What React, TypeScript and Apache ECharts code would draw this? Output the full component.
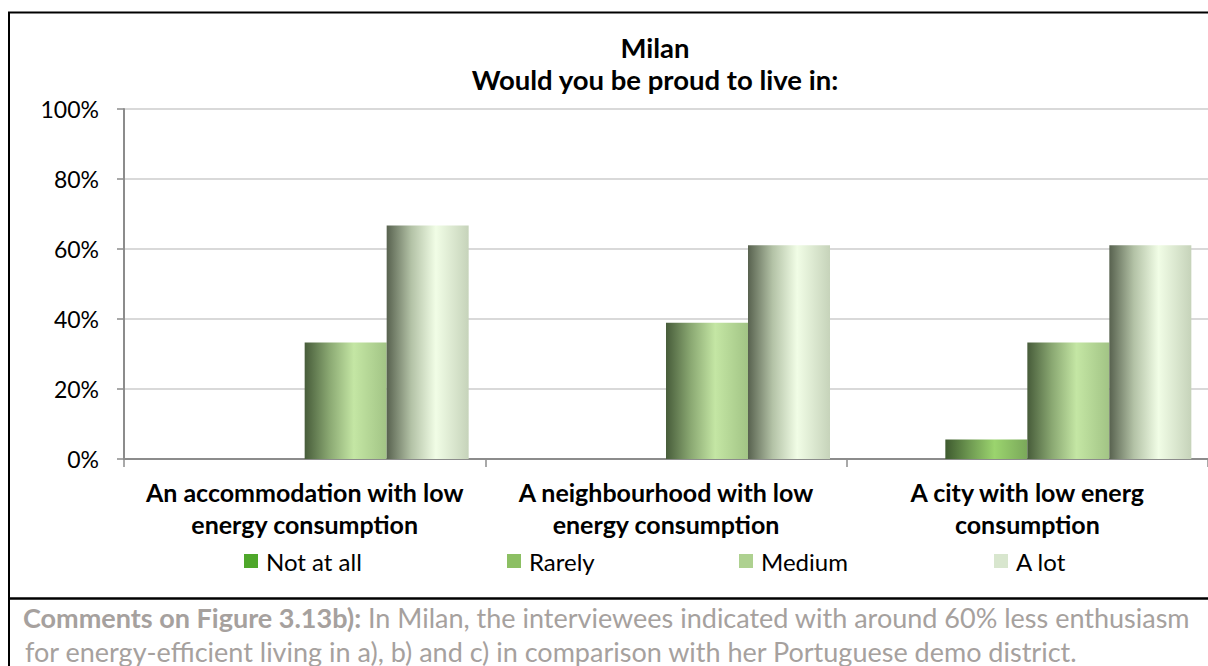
import React, { useEffect, useRef } from 'react';
import * as echarts from 'echarts';

// ---- data ----
const categories = [
  'An accommodation with low\nenergy consumption',
  'A neighbourhood with low\nenergy consumption',
  'A city with low energ\nconsumption',
];
const seriesNames = ['Not at all', 'Rarely', 'Medium', 'A lot'];
const notAtAll = [0, 0, 0];
const rarely = [0, 0, 5.6];
const medium = [33.3, 38.9, 33.3];
const aLot = [66.7, 61.1, 61.1];
const yMin = 0;
const yMax = 100;
const yStep = 20;
const titleLines = ['Milan', 'Would you be proud to live in:'];
const commentBold = 'Comments on Figure 3.13b):';
const commentLine1 = ' In Milan, the interviewees indicated with around 60% less enthusiasm';
const commentLine2 =
  'for energy-efficient living in a), b) and c) in comparison with her Portuguese demo district.';

// ---- styles ----
const FAMILY = 'Lato';
const FONT = 'Lato, "Open Sans", sans-serif';
const legendColors = ['#4ea72a', '#8cbf63', '#aed190', '#d8e6ce'];
const gradients = [
  [['#2f5a1a', 0], ['#4e9a2c', 0.3], ['#66c23a', 0.6], ['#4a9a2a', 1]],
  [['#3e5a2f', 0], ['#6f9a52', 0.3], ['#9bd46e', 0.6], ['#7aa85a', 1]],
  [['#475c3a', 0], ['#8aa872', 0.3], ['#c4e6a4', 0.6], ['#a2c485', 1]],
  [['#58624f', 0], ['#b3c2a6', 0.3], ['#f1fde6', 0.6], ['#c6d3ba', 1]],
];
const legendLefts = [239, 502, 734, 989];

function measure(text: string, weight: string) {
  const ctx = document.createElement('canvas').getContext('2d');
  if (!ctx) return 1000;
  ctx.font = `${weight} 100px ${FAMILY}`;
  return ctx.measureText(text).width;
}
function fit(text: string, weight: string, target: number) {
  return Math.round(((100 * target) / measure(text, weight)) * 2) / 2;
}

export default function App() {
  const ref = useRef<HTMLDivElement>(null);
  useEffect(() => {
    if (!ref.current) return;
    const chart = echarts.init(ref.current, null, { renderer: 'svg' });

    const titleSize = fit(titleLines[1], 'bold', 369);
    const catSize = fit('An accommodation with low', 'bold', 317);
    const ySize = fit('100%', 'normal', 58);
    const legSize = fit('Not at all', 'normal', 95);
    const line1W = measure(commentBold, 'bold') + measure(commentLine1, 'normal');
    const comSize = Math.floor(
      Math.min((100 * 1170) / line1W, fit(commentLine2, 'normal', 1069)) * 2
    ) / 2;

    const seriesData = [notAtAll, rarely, medium, aLot];
    const series = seriesNames.map((name, i) => ({
      name,
      type: 'bar',
      data: seriesData[i],
      barWidth: 82,
      barGap: '0%',
      itemStyle: {
        color: new echarts.graphic.LinearGradient(
          0, 0, 1, 0,
          gradients[i].map(([c, o]) => ({ offset: o as number, color: c as string }))
        ),
      },
    }));

    const legends = seriesNames.map((name, i) => ({
      data: [{ name, itemStyle: { color: legendColors[i] } }],
      left: legendLefts[i],
      top: 544,
      icon: 'rect',
      itemWidth: 14,
      itemHeight: 14,
      selectedMode: false,
      textStyle: {
        fontFamily: FONT,
        fontSize: legSize,
        color: '#000',
        padding: [0, 0, 0, 3],
      },
    }));

    const gray = '#a6a19e';
    chart.setOption({
      animation: false,
      backgroundColor: '#fff',
      grid: { left: 124, top: 109, width: 1089, height: 350, containLabel: false },
      legend: legends,
      xAxis: {
        type: 'category',
        data: categories,
        axisLine: { lineStyle: { color: '#8c8c8c', width: 2 } },
        axisTick: { show: true, length: 8, lineStyle: { color: '#8c8c8c', width: 1.5 } },
        axisLabel: {
          interval: 0,
          margin: 17,
          fontFamily: FONT,
          fontWeight: 'bold',
          fontSize: catSize,
          lineHeight: 32,
          color: '#000',
        },
      },
      yAxis: {
        type: 'value',
        min: yMin,
        max: yMax,
        interval: yStep,
        axisLine: { show: true, lineStyle: { color: '#8c8c8c', width: 2 } },
        axisTick: { show: true, length: 7, lineStyle: { color: '#8c8c8c', width: 1.5 } },
        splitLine: { lineStyle: { color: '#d9d9d9', width: 2 } },
        axisLabel: {
          formatter: '{value}%',
          margin: 25,
          fontFamily: FONT,
          fontSize: ySize,
          color: '#000',
        },
      },
      series,
      graphic: [
        { type: 'line', shape: { x1: 9, y1: 12, x2: 9, y2: 666 }, style: { stroke: '#000', lineWidth: 2 } },
        { type: 'line', shape: { x1: 8, y1: 12.5, x2: 1208, y2: 12.5 }, style: { stroke: '#000', lineWidth: 2 } },
        { type: 'line', shape: { x1: 8, y1: 598.5, x2: 1208, y2: 598.5 }, style: { stroke: '#000', lineWidth: 2.5 } },
        {
          type: 'text', x: 655, y: 47,
          style: { text: titleLines[0], align: 'center', verticalAlign: 'middle', font: `bold ${titleSize}px ${FONT}`, fill: '#000' },
        },
        {
          type: 'text', x: 655, y: 79,
          style: { text: titleLines[1], align: 'center', verticalAlign: 'middle', font: `bold ${titleSize}px ${FONT}`, fill: '#000' },
        },
        {
          type: 'text', x: 23, y: 617,
          style: {
            text: `{b|${commentBold}}{n|${commentLine1}}`,
            verticalAlign: 'middle',
            rich: {
              b: { fontFamily: FONT, fontWeight: 'bold', fontSize: comSize, fill: gray, color: gray },
              n: { fontFamily: FONT, fontSize: comSize, fill: gray, color: gray },
            },
          },
        },
        {
          type: 'text', x: 25, y: 651,
          style: { text: commentLine2, verticalAlign: 'middle', font: `${comSize}px ${FONT}`, fill: gray },
        },
      ],
    });
    return () => chart.dispose();
  }, []);
  return <div ref={ref} style={{ position: 'absolute', left: 0, top: 0, width: 1208, height: 666 }} />;
}
